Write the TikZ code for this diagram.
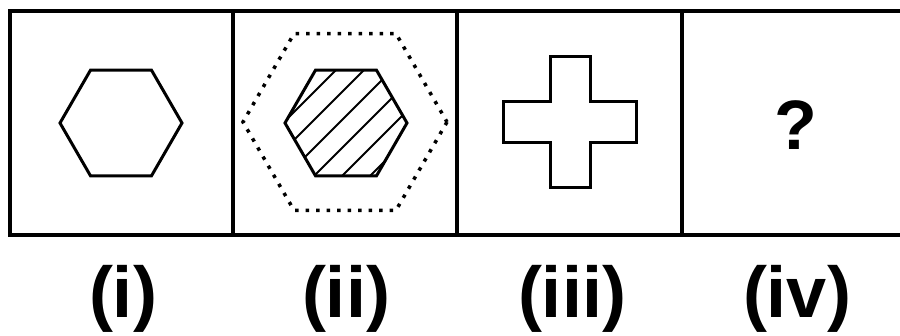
\documentclass[tikz,border=0pt]{standalone}
\usepackage{fontspec}
\setmainfont{Liberation Sans}
\begin{document}
\begin{tikzpicture}[x=1pt,y=-1pt,
  frame/.style={line width=3.2pt},
  shapeline/.style={line width=3pt, line join=miter},
  hatchline/.style={line width=1.8pt},
  dotline/.style={line width=3.5pt, dash pattern=on 3.5pt off 7pt},
  lbl/.style={anchor=base, inner sep=0pt, font=\fontsize{72}{80}\selectfont\bfseries},
  qmark/.style={anchor=base, inner sep=0pt, font=\fontsize{70}{78}\selectfont\bfseries}]
\useasboundingbox (0,0) rectangle (900,336);
\begin{scope}
\clip (0,0) rectangle (900,336);
% frame
\draw[frame] (10,11) rectangle (920,235);
\draw[frame] (233,11) -- (233,235);
\draw[frame] (457,11) -- (457,235);
\draw[frame] (682,11) -- (682,235);
\end{scope}
% (i) hexagon
\coordinate (c1) at (121,123);
\draw[shapeline] (c1) +(0:61) -- +(60:61) -- +(120:61) -- +(180:61) -- +(240:61) -- +(300:61) -- cycle;
% (ii) hatched hexagon with dotted outer hexagon
\coordinate (c2) at (346,123);
\begin{scope}
\clip (c2) +(0:61) -- +(60:61) -- +(120:61) -- +(180:61) -- +(240:61) -- +(300:61) -- cycle;
\foreach \c in {406,434,462,490,518,546}{
  \draw[hatchline] (\c-40,40) -- (\c-210,210);
}
\end{scope}
\draw[shapeline] (c2) +(0:61) -- +(60:61) -- +(120:61) -- +(180:61) -- +(240:61) -- +(300:61) -- cycle;
\coordinate (c2o) at (345,122);
\draw[dotline] (c2o) +(0:102) -- +(60:102) -- +(120:102) -- +(180:102) -- +(240:102) -- +(300:102) -- cycle;
% (iii) cross
\draw[shapeline] (550,57) -- (590,57) -- (590,102) -- (636,102) -- (636,143) -- (590,143)
  -- (590,188) -- (550,188) -- (550,143) -- (503,143) -- (503,102) -- (550,102) -- cycle;
% (iv) question mark
\node[qmark] (q) at (796,150) {?};
% labels
\node[lbl] (l1) at (123,318) {(i)};
\node[lbl] (l2) at (346,318) {(ii)};
\node[lbl] (l3) at (572,318) {(iii)};
\node[lbl] (l4) at (797,318) {(iv)};
\end{tikzpicture}
\end{document}
